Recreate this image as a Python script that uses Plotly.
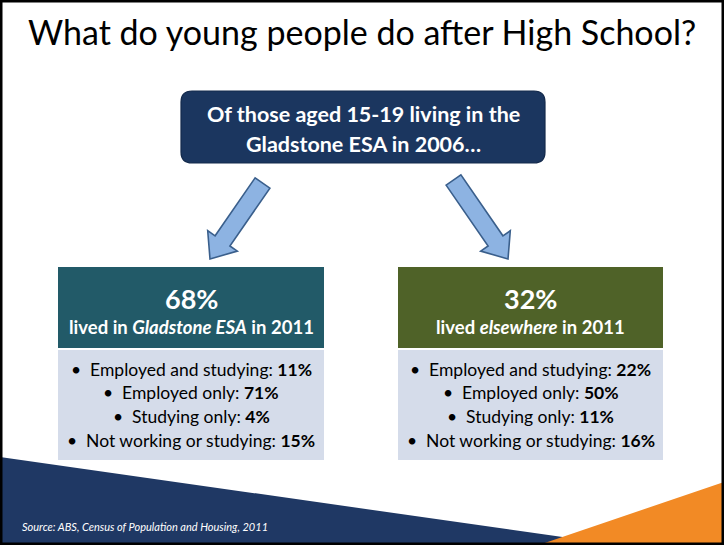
import math
import plotly.graph_objects as go

# ---- content -------------------------------------------------------------
title_text = "What do young people do after High School?"
intro_lines = ["Of those aged 15-19 living in the", "Gladstone ESA in 2006…"]

share_pct = [68, 32]                       # share of the 2006 cohort by 2011 location
share_captions = ["lived in <i>Gladstone ESA</i> in 2011",
                  "lived <i>elsewhere</i> in 2011"]

activity_labels = ["Employed and studying", "Employed only",
                   "Studying only", "Not working or studying"]
stayed_pct = [11, 71, 4, 15]               # lived in Gladstone ESA in 2011
moved_pct = [22, 50, 11, 16]               # lived elsewhere in 2011

source_text = "Source: ABS, Census of Population and Housing, 2011"

# ---- styling -------------------------------------------------------------
W, H = 724, 545
FONT = "Lato"
NAVY = "#1f3864"
BOX_NAVY = "#1b365f"
TEAL = "#225a68"
OLIVE = "#4f6228"
BODY = "#d5dcea"
ARROW_FILL = "#8db3e2"
ARROW_LINE = "#3a5f8c"
ORANGE = "#f28a25"

fig = go.Figure()
shapes = []
annotations = []


def rect(x0, y0, x1, y1, color):
    shapes.append(dict(type="rect", xref="x", yref="y", x0=x0, y0=y0, x1=x1, y1=y1,
                       fillcolor=color, line=dict(width=0), layer="below"))


def rounded_rect(x0, y0, x1, y1, r, fill, edge):
    p = (f"M{x0+r},{y0} L{x1-r},{y0} Q{x1},{y0} {x1},{y0+r} L{x1},{y1-r} "
         f"Q{x1},{y1} {x1-r},{y1} L{x0+r},{y1} Q{x0},{y1} {x0},{y1-r} "
         f"L{x0},{y0+r} Q{x0},{y0} {x0+r},{y0} Z")
    shapes.append(dict(type="path", xref="x", yref="y", path=p, fillcolor=fill,
                       line=dict(color=edge, width=1.2), layer="below"))


def block_arrow(tail, tip, shaft_w, head_w, head_len):
    dx, dy = tip[0] - tail[0], tip[1] - tail[1]
    L = math.hypot(dx, dy)
    ux, uy = dx / L, dy / L
    nx, ny = -uy, ux
    bx, by = tip[0] - ux * head_len, tip[1] - uy * head_len
    pts = [
        (tail[0] + nx * shaft_w / 2, tail[1] + ny * shaft_w / 2),
        (bx + nx * shaft_w / 2, by + ny * shaft_w / 2),
        (bx + nx * head_w / 2, by + ny * head_w / 2),
        tip,
        (bx - nx * head_w / 2, by - ny * head_w / 2),
        (bx - nx * shaft_w / 2, by - ny * shaft_w / 2),
        (tail[0] - nx * shaft_w / 2, tail[1] - ny * shaft_w / 2),
    ]
    p = "M" + " L".join(f"{x:.1f},{y:.1f}" for x, y in pts) + " Z"
    shapes.append(dict(type="path", xref="x", yref="y", path=p, fillcolor=ARROW_FILL,
                       line=dict(color=ARROW_LINE, width=1.6), layer="above"))


def text(x, y, s, size, color="black", anchor="center", bold=False, italic=False):
    if bold:
        s = f"<b>{s}</b>"
    if italic:
        s = f"<i>{s}</i>"
    annotations.append(dict(x=x, y=y, xref="x", yref="y", text=s, showarrow=False,
                            xanchor=anchor, yanchor="middle",
                            font=dict(family=FONT, size=size, color=color)))


# ---- bottom decoration ---------------------------------------------------
shapes.append(dict(type="path", xref="x", yref="y", layer="below",
                   path="M0,457 L640,548 L0,548 Z", fillcolor=NAVY, line=dict(width=0)))
shapes.append(dict(type="path", xref="x", yref="y", layer="below",
                   path="M530,548 L724,482 L724,548 Z", fillcolor=ORANGE, line=dict(width=0)))

# ---- title & intro box ---------------------------------------------------
text(362, 31, title_text, 34)
rounded_rect(181, 91, 545, 163, 11, BOX_NAVY, "#142a4c")
text(363, 114, intro_lines[0], 21.5, "white", bold=True)
text(363, 144, intro_lines[1], 21.5, "white", bold=True)

# ---- arrows --------------------------------------------------------------
block_arrow((262.5, 183), (210, 259), 18, 36, 22)
block_arrow((453.5, 180), (508, 259), 18, 36, 22)

# ---- the two result panels ----------------------------------------------
panels = [
    dict(x0=58, x1=324, head=TEAL, pct=share_pct[0], cap=share_captions[0], vals=stayed_pct),
    dict(x0=398, x1=663, head=OLIVE, pct=share_pct[1], cap=share_captions[1], vals=moved_pct),
]
line_y = [369, 392, 416, 440]
for p in panels:
    cx = (p["x0"] + p["x1"]) / 2
    rect(p["x0"], 267, p["x1"], 348, p["head"])
    rect(p["x0"], 350, p["x1"], 460, BODY)
    text(cx, 298, f"{p['pct']}%", 27, "white", bold=True)
    text(cx, 327, p["cap"], 18.5, "white", bold=True)
    for lab, v, y in zip(activity_labels, p["vals"], line_y):
        text(cx, y, f"•  {lab}: <b>{v}%</b>", 17.5)

# ---- source & frame ------------------------------------------------------
text(20, 526, source_text, 11, "white", anchor="left", italic=True)
shapes.append(dict(type="rect", xref="paper", yref="paper", x0=0, y0=0, x1=1, y1=1,
                   line=dict(color="black", width=5), fillcolor="rgba(0,0,0,0)",
                   layer="above"))

fig.update_layout(
    width=W, height=H, margin=dict(l=0, r=0, t=0, b=0),
    paper_bgcolor="white", plot_bgcolor="white",
    xaxis=dict(range=[0, W], visible=False, fixedrange=True),
    yaxis=dict(range=[H, 0], visible=False, fixedrange=True),
    shapes=shapes, annotations=annotations, showlegend=False,
)
fig.write_html("out.html")
